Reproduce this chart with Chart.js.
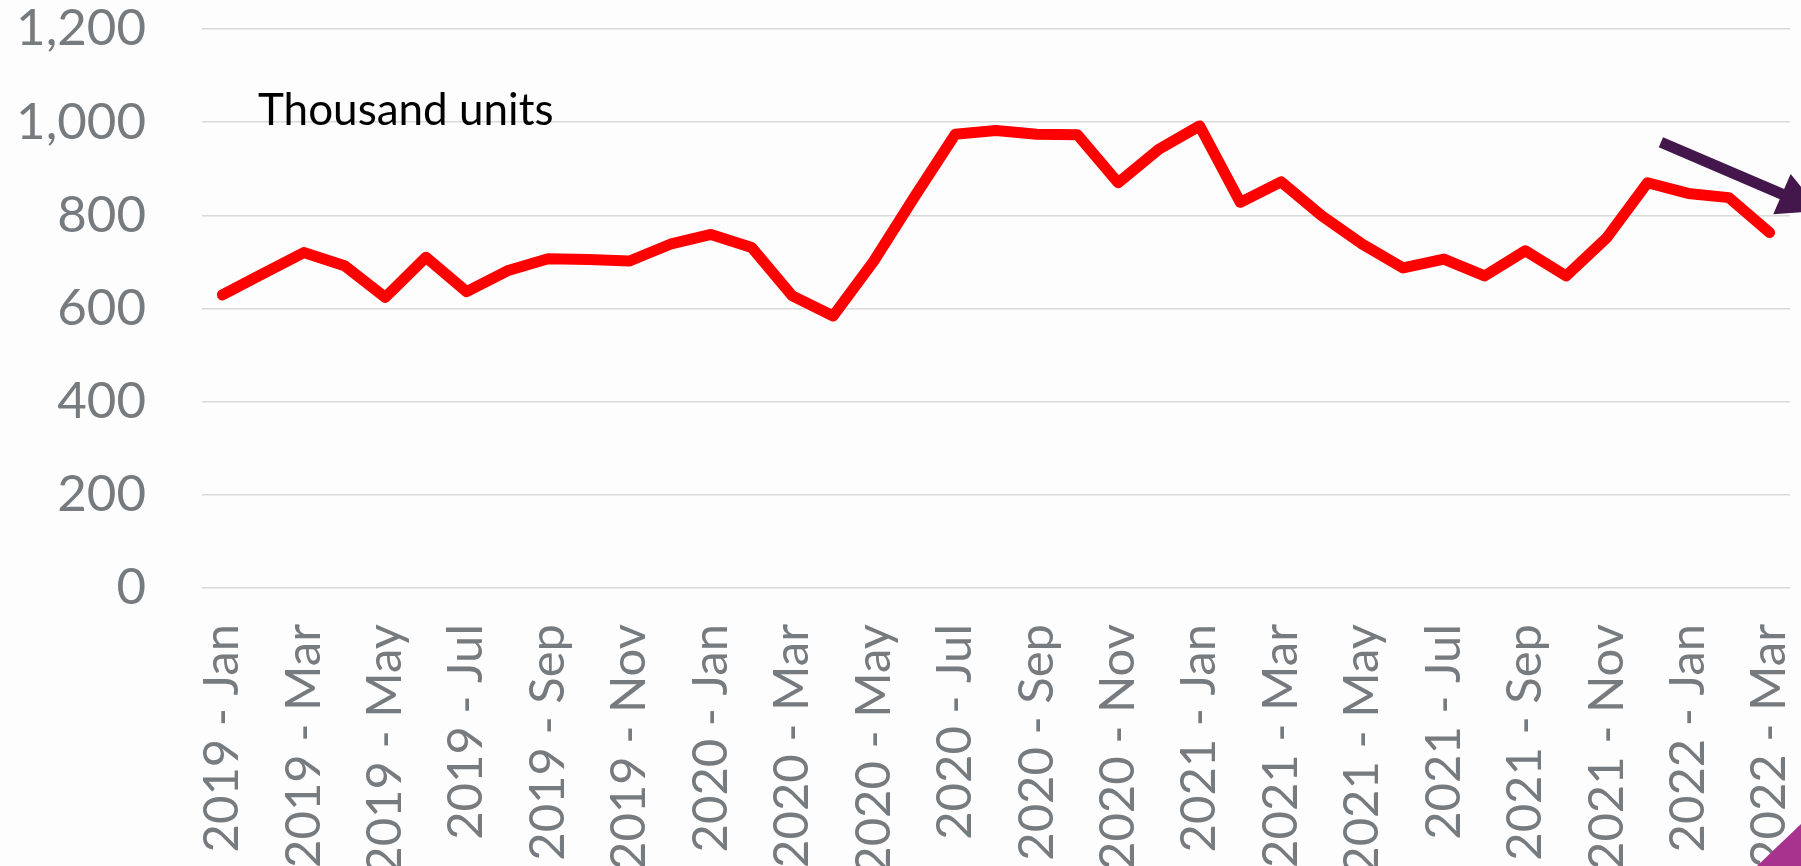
<!DOCTYPE html>
<html>
<head>
<meta charset="utf-8">
<script src="https://cdn.jsdelivr.net/npm/chart.js@4.4.1/dist/chart.umd.min.js"></script>
<style>
  html, body { margin: 0; padding: 0; background: #ffffff; overflow: hidden; }
  #wrap { width: 1801px; height: 866px; position: relative; }
</style>
</head>
<body>
<div id="wrap"><canvas id="c" width="1801" height="866"></canvas></div>
<script>
// ---- data ----
const months = [
  '2019 - Jan','2019 - Feb','2019 - Mar','2019 - Apr','2019 - May','2019 - Jun',
  '2019 - Jul','2019 - Aug','2019 - Sep','2019 - Oct','2019 - Nov','2019 - Dec',
  '2020 - Jan','2020 - Feb','2020 - Mar','2020 - Apr','2020 - May','2020 - Jun',
  '2020 - Jul','2020 - Aug','2020 - Sep','2020 - Oct','2020 - Nov','2020 - Dec',
  '2021 - Jan','2021 - Feb','2021 - Mar','2021 - Apr','2021 - May','2021 - Jun',
  '2021 - Jul','2021 - Aug','2021 - Sep','2021 - Oct','2021 - Nov','2021 - Dec',
  '2022 - Jan','2022 - Feb','2022 - Mar'
];
const unitsThousand = [
  629, 675, 720, 692, 624, 710, 636, 681, 707, 705, 702, 738,
  759, 731, 627, 584, 702, 840, 974, 982, 974, 973, 870, 942,
  992, 828, 872, 799, 738, 687, 706, 670, 724, 670, 752, 870,
  847, 838, 763
];
const yTickValues = [0, 200, 400, 600, 800, 1000, 1200];
const unitCaption = 'Thousand units';
// trend arrow annotation, in data space: [category index, value]
const trendArrowFrom = [35.33, 957];
const trendArrowTo = [39.25, 810];

// ---- styles ----
const FONT = 'Lato, "Open Sans", sans-serif';
const TICK_COLOR = '#767b7f';

const decorPlugin = {
  id: 'decor',
  beforeDraw(chart) {
    const ctx = chart.ctx;
    ctx.save();
    ctx.fillStyle = '#fefdfe';
    ctx.fillRect(0, 0, chart.width, chart.height);
    ctx.restore();
  },
  afterDraw(chart) {
    const ctx = chart.ctx;
    const xs = chart.scales.x, ys = chart.scales.y;
    ctx.save();
    // caption
    ctx.fillStyle = '#000000';
    ctx.font = '44px ' + FONT;
    ctx.textBaseline = 'alphabetic';
    ctx.textAlign = 'left';
    ctx.fillText(unitCaption, 258, 125);

    // trend arrow
    const x0 = xs.getPixelForValue(trendArrowFrom[0]);
    const y0 = ys.getPixelForValue(trendArrowFrom[1]);
    const x1 = xs.getPixelForValue(trendArrowTo[0]);
    const y1 = ys.getPixelForValue(trendArrowTo[1]);
    const ang = Math.atan2(y1 - y0, x1 - x0);
    const headLen = 42, headHalf = 22;
    const bx = x1 - headLen * Math.cos(ang), by = y1 - headLen * Math.sin(ang);
    ctx.strokeStyle = '#43164c';
    ctx.fillStyle = '#43164c';
    ctx.lineWidth = 11;
    ctx.lineCap = 'butt';
    ctx.beginPath();
    ctx.moveTo(x0, y0);
    ctx.lineTo(bx + 2 * Math.cos(ang), by + 2 * Math.sin(ang));
    ctx.stroke();
    ctx.beginPath();
    ctx.moveTo(x1, y1);
    ctx.lineTo(bx + headHalf * Math.sin(ang), by - headHalf * Math.cos(ang));
    ctx.lineTo(bx - headHalf * Math.sin(ang), by + headHalf * Math.cos(ang));
    ctx.closePath();
    ctx.fill();

    // corner decoration
    ctx.fillStyle = '#a8338f';
    ctx.beginPath();
    ctx.moveTo(chart.width, chart.height - 42);
    ctx.lineTo(chart.width, chart.height);
    ctx.lineTo(chart.width - 44, chart.height);
    ctx.closePath();
    ctx.fill();
    ctx.restore();
  }
};

new Chart(document.getElementById('c'), {
  type: 'line',
  data: {
    labels: months,
    datasets: [{
      label: unitCaption,
      data: unitsThousand,
      borderColor: '#ff0000',
      backgroundColor: '#ff0000',
      borderWidth: 11,
      borderCapStyle: 'round',
      borderJoinStyle: 'round',
      pointRadius: 0,
      pointHoverRadius: 0,
      tension: 0,
      fill: false
    }]
  },
  options: {
    responsive: false,
    animation: false,
    devicePixelRatio: 1,
    layout: { padding: { top: 29, right: 11, bottom: 0, left: 0 } },
    plugins: {
      legend: { display: false },
      title: { display: false },
      tooltip: { enabled: false }
    },
    scales: {
      x: {
        type: 'category',
        offset: true,
        grid: { display: false, drawTicks: false },
        border: { display: false },
        ticks: {
          autoSkip: false,
          maxRotation: 90,
          minRotation: 90,
          padding: 36,
          color: TICK_COLOR,
          font: { family: FONT, size: 49, lineHeight: 1 },
          callback: function (value, index) {
            return index % 2 === 0 ? this.getLabelForValue(value) : '';
          }
        },
        afterFit(axis) {
          axis.height = 278;
          axis.paddingLeft = 0; axis.paddingRight = 0;
          axis.paddingTop = 0; axis.paddingBottom = 0;
        }
      },
      y: {
        min: 0,
        max: 1200,
        afterBuildTicks(axis) { axis.ticks = yTickValues.map(v => ({ value: v })); },
        grid: { color: '#d9d9d9', lineWidth: 1.5, drawTicks: false },
        border: { display: false },
        ticks: {
          padding: 56,
          color: TICK_COLOR,
          font: { family: FONT, size: 51, lineHeight: 1 },
          callback: v => Number(v).toLocaleString('en-US')
        },
        afterFit(axis) {
          axis.width = 202;
          axis.paddingLeft = 0; axis.paddingRight = 0;
          axis.paddingTop = 0; axis.paddingBottom = 0;
        }
      }
    }
  },
  plugins: [decorPlugin]
});
</script>
</body>
</html>
